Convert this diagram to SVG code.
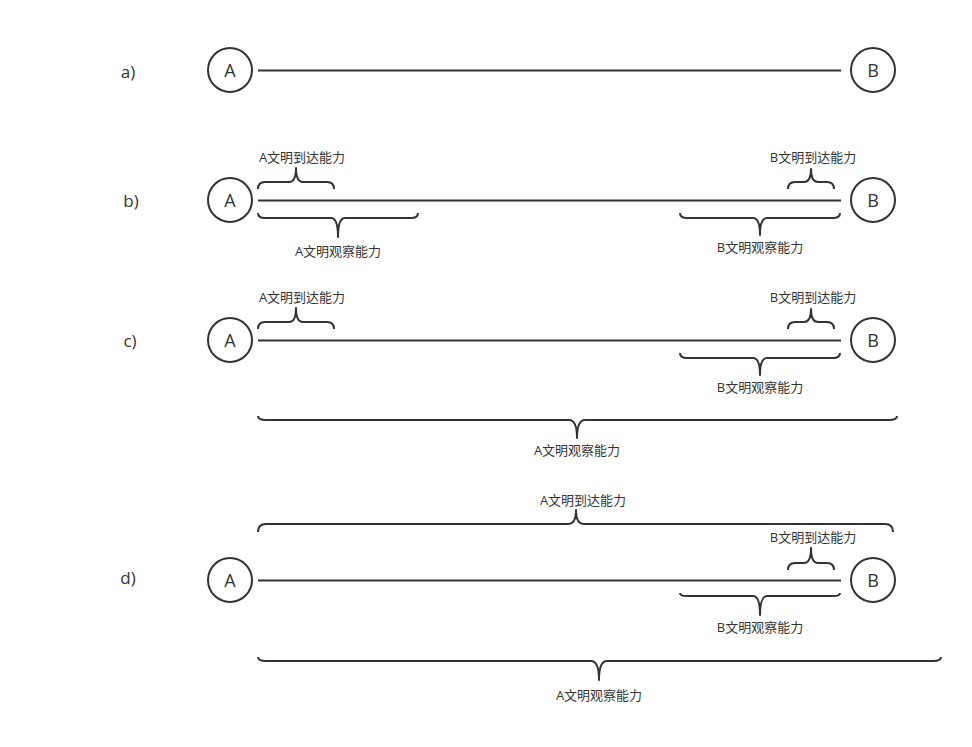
<svg xmlns="http://www.w3.org/2000/svg" width="972" height="747" viewBox="0 0 972 747">
<style>
.n{fill:#fff;stroke:#333;stroke-width:2}
.l{fill:none;stroke:#333;stroke-width:2}
.br{fill:none;stroke:#333;stroke-width:2;stroke-linejoin:round}
.t{font-family:"Open Sans","Noto Sans CJK SC",sans-serif;fill:#333;text-anchor:middle}
.c{font-size:18px}
.s{font-size:13px}
.r{font-size:17px}
</style>
<rect width="972" height="747" fill="#fff"/>
<g id="row-labels">
<text class="t r" x="128" y="78">a)</text>
<text class="t r" x="131" y="207">b)</text>
<text class="t r" x="130" y="347">c)</text>
<text class="t r" x="128" y="584">d)</text>
</g>
<g id="connectors">
<line class="l" x1="258" y1="70.5" x2="841" y2="70.5"/>
<line class="l" x1="258" y1="200.5" x2="841" y2="200.5"/>
<line class="l" x1="258" y1="340.5" x2="841" y2="340.5"/>
<line class="l" x1="258" y1="580.5" x2="841" y2="580.5"/>
</g>
<g id="nodeA1"><circle class="n" cx="230" cy="70" r="22"/><text class="t c" x="230" y="77">A</text></g>
<g id="nodeB1"><circle class="n" cx="873" cy="70" r="22"/><text class="t c" x="873" y="77">B</text></g>
<g id="nodeA2"><circle class="n" cx="230" cy="200" r="22"/><text class="t c" x="230" y="207">A</text></g>
<g id="nodeB2"><circle class="n" cx="873" cy="200" r="22"/><text class="t c" x="873" y="207">B</text></g>
<g id="nodeA3"><circle class="n" cx="230" cy="340" r="22"/><text class="t c" x="230" y="347">A</text></g>
<g id="nodeB3"><circle class="n" cx="873" cy="340" r="22"/><text class="t c" x="873" y="347">B</text></g>
<g id="nodeA4"><circle class="n" cx="230" cy="580" r="22"/><text class="t c" x="230" y="587">A</text></g>
<g id="nodeB4"><circle class="n" cx="873" cy="580" r="22"/><text class="t c" x="873" y="587">B</text></g>

<g id="braces-b">
<path class="br" d="M258,189 Q258,182 265,182 L289,182 Q296,182 296,168 Q296,182 303,182 L327,182 Q334,182 334,189"/>
<text class="t s" x="302" y="162">A文明到达能力</text>
<path class="br" d="M258,213 Q258,218 265,218 L331,218 Q338,218 338,237 Q338,218 345,218 L411,218 Q418,218 418,213"/>
<text class="t s" x="338" y="256">A文明观察能力</text>
<path class="br" d="M788,189 Q788,182 795,182 L804,182 Q811,182 811,169 Q811,182 818,182 L827,182 Q834,182 834,189"/>
<text class="t s" x="813" y="162">B文明到达能力</text>
<path class="br" d="M680,213 Q680,218 687,218 L753,218 Q760,218 760,235 Q760,218 767,218 L833,218 Q840,218 840,213"/>
<text class="t s" x="760" y="252">B文明观察能力</text>
</g>

<g id="braces-c">
<path class="br" d="M258,329 Q258,322 265,322 L289,322 Q296,322 296,308 Q296,322 303,322 L327,322 Q334,322 334,329"/>
<text class="t s" x="302" y="302">A文明到达能力</text>
<path class="br" d="M788,329 Q788,322 795,322 L804,322 Q811,322 811,309 Q811,322 818,322 L827,322 Q834,322 834,329"/>
<text class="t s" x="813" y="302">B文明到达能力</text>
<path class="br" d="M680,353 Q680,358 687,358 L753,358 Q760,358 760,375 Q760,358 767,358 L833,358 Q840,358 840,353"/>
<text class="t s" x="760" y="392">B文明观察能力</text>
<path class="br" d="M258,416 Q258,420 266,420 L569,420 Q577,420 577,438 Q577,420 585,420 L889,420 Q897,420 897,416"/>
<text class="t s" x="577" y="455">A文明观察能力</text>
</g>

<g id="braces-d">
<path class="br" d="M258,532 Q258,524 266,524 L568,524 Q576,524 576,510 Q576,524 584,524 L885,524 Q893,524 893,532"/>
<text class="t s" x="583" y="505">A文明到达能力</text>
<path class="br" d="M788,570 Q788,563 795,563 L804,563 Q811,563 811,548 Q811,563 818,563 L827,563 Q834,563 834,570"/>
<text class="t s" x="813" y="542">B文明到达能力</text>
<path class="br" d="M680,593 Q680,596 687,596 L753,596 Q760,596 760,615 Q760,596 767,596 L833,596 Q840,596 840,593"/>
<text class="t s" x="760" y="632">B文明观察能力</text>
<path class="br" d="M258,657 Q258,661 266,661 L591,661 Q599,661 599,680 Q599,661 607,661 L933,661 Q941,661 941,657"/>
<text class="t s" x="599" y="700">A文明观察能力</text>
</g>
</svg>
